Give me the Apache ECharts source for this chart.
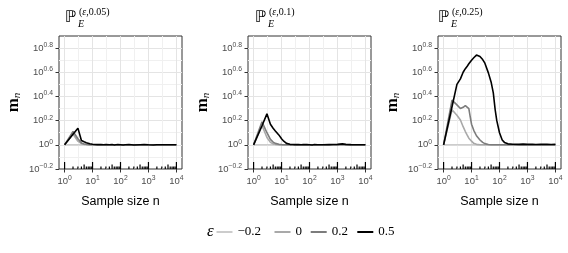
<!DOCTYPE html>
<html><head><meta charset="utf-8">
<script src="https://cdn.jsdelivr.net/npm/echarts@6/dist/echarts.min.js"></script>
<style>html,body{margin:0;padding:0;background:#fff;}#c{width:568px;height:253px;}</style>
</head><body><div id="c"></div>
<script>
// ---------- data ----------
const sampleSizes = [1,2,3,4,5,6,7,8,9,10,12,15,20,25,30,40,50,60,70,80,100,125,150,200,300,500,700,1000,1500,2000,3000,5000,7000,10000];
const epsLevels = ['\u22120.2','0','0.2','0.5'];
const panelLevels = ['0.05','0.1','0.25'];
const xTickExps = [0,1,2,3,4];
const yTickExps = [-0.2,0,0.2,0.4,0.6,0.8];
const logTickMultipliers = [1,2,3,4,5,6,7,8,9];
const logTickDecades = [0,1,2,3];

// log10(m_n) for each panel and epsilon
const p005_em02 = [0,0,0,0,0,0,0,0,0,0,0,0,0,0,0,0,0,0,0,0,0,0,0,0,0,0,0,0,0,0,0,0,0,0];
const p005_e0   = [0,0.09,0.03,0.01,0.004,0.002,0.001,0,0,0,0,0,0,0,0,0,0,0,0,0,0,0,0,0,0,0,0,0,0,0,0,0,0,0];
const p005_e02  = [0,0.11,0.05,0.016,0.007,0.004,0.002,0.001,0.001,0,0,0,0,0,0,0,0,0,0,0,0,0,0,0,0,0,0,0,0,0,0,0,0,0];
const p005_e05  = [0,0.088,0.138,0.035,0.025,0.018,0.013,0.009,0.007,0.005,0.003,0.002,0.003,0.001,0.002,0,0.002,-0.001,0.001,0.002,0,-0.002,0.001,0.002,-0.001,0.001,0.002,0,-0.001,0.001,0,0.001,0,0.001];

const p01_em02 = [0,0,0,0,0,0,0,0,0,0,0,0,0,0,0,0,0,0,0,0,0,0,0,0,0,0,0,0,0,0,0,0,0,0];
const p01_e0   = [0,0.16,0.06,0.02,0.008,0.004,0.002,0.001,0,0,0,0,0,0,0,0,0,0,0,0,0,0,0,0,0,0,0,0,0,0,0,0,0,0];
const p01_e02  = [0,0.19,0.10,0.045,0.022,0.012,0.007,0.004,0.003,0.002,0.001,0,0,0,0,0,0,0,0,0,0,0,0,0,0,0,0,0,0,0,0,0,0,0];
const p01_e05  = [0,0.158,0.256,0.17,0.137,0.115,0.1,0.082,0.068,0.05,0.03,0.012,0.004,0.003,0.002,0.003,0.001,0.002,0,0.002,0.001,-0.001,0.002,0.001,0,0.002,0.003,0.004,0.008,0.004,0.002,0.001,0,0.001];

const p025_em02 = [0,0,0,0,0,0,0,0,0,0,0,0,0,0,0,0,0,0,0,0,0,0,0,0,0,0,0,0,0,0,0,0,0,0];
const p025_e0   = [0,0.29,0.245,0.205,0.15,0.11,0.08,0.055,0.04,0.03,0.012,0.004,0.001,0,0,0,0,0,0,0,0,0,0,0,0,0,0,0,0,0,0,0,0,0];
const p025_e02  = [0,0.37,0.33,0.30,0.31,0.325,0.33,0.30,0.23,0.17,0.12,0.075,0.04,0.02,0.01,0.003,0.001,0,0,0,0,0,0,0,0,0,0,0,0,0,0,0,0,0];
const p025_e05  = [0,0.315,0.5,0.545,0.6,0.63,0.65,0.67,0.685,0.70,0.72,0.742,0.73,0.705,0.675,0.595,0.52,0.43,0.29,0.2,0.1,0.04,0.02,0.008,0.005,0.004,0.006,0.004,0.005,0.003,0.005,0.004,0.003,0.004];

const panelValues = [
  [p005_em02, p005_e0, p005_e02, p005_e05],
  [p01_em02, p01_e0, p01_e02, p01_e05],
  [p025_em02, p025_e0, p025_e02, p025_e05]
];

// ---------- layout / style ----------
const epsColors = ['#cccccc','#a9a9a9','#7c7c7c','#000000'];
const PANEL_LEFT = [59, 248, 438];
const PANEL_W = 123, PANEL_TOP = 36, PANEL_H = 133;
const X_MIN = -0.2, X_MAX = 4.2, Y_MIN = -0.2, Y_MAX = 0.9;
const TITLE_X = [65, 255, 438];
const MAJ = '#e4e4e4', MIN = '#f0f0f0', NONE = 'rgba(0,0,0,0)';
const xGridColors = [NONE, NONE, MAJ, NONE, NONE, NONE, NONE, MIN, NONE, NONE];
const yGridColors = [NONE, MIN, MAJ, MIN, MAJ, MIN, MAJ, MIN, MAJ, MIN, MAJ, NONE];
const labelRich = {
  b: {fontFamily: 'Liberation Sans', fontSize: 9.5, lineHeight: 13, color: '#4d4d4d'},
  s: {fontFamily: 'Liberation Sans', fontSize: 6.8, verticalAlign: 'top', color: '#4d4d4d'}
};
function fmtExp(v) {
  const t = Math.round(v * 10) / 10;
  const s = t === 0 ? '0' : (t < 0 ? '\u2212' + Math.abs(t) : String(t));
  return '{b|10}{s|' + s + '}';
}

const logTicks = [];
logTickDecades.forEach(d => logTickMultipliers.forEach(k => {
  logTicks.push([Math.log10(k * Math.pow(10, d)), k === 1 ? 1 : (k === 5 ? 2 : 3)]);
}));
logTicks.push([4, 1]);

const pxPerX = PANEL_W / (X_MAX - X_MIN);
const pxPerY = PANEL_H / (Y_MAX - Y_MIN);

const grid = [], xAxis = [], yAxis = [], series = [], graphic = [];
panelLevels.forEach((lvl, p) => {
  const L = PANEL_LEFT[p];
  const gi = grid.length;
  grid.push({left: L, top: PANEL_TOP, width: PANEL_W, height: PANEL_H, show: true,
    borderColor: '#333333', borderWidth: 1, backgroundColor: 'transparent'});
  grid.push({left: L + (0 - X_MIN) * pxPerX, top: PANEL_TOP, width: 4 * pxPerX, height: PANEL_H});
  grid.push({left: L, top: PANEL_TOP + (Y_MAX - 0.8) * pxPerY, width: PANEL_W, height: 1.0 * pxPerY});

  xAxis.push({gridIndex: gi, type: 'value', min: X_MIN, max: X_MAX, interval: 0.1,
    axisLine: {show: false, onZero: false}, axisTick: {show: false}, axisLabel: {show: false},
    splitLine: {show: true, lineStyle: {color: xGridColors, width: 1}}});
  yAxis.push({gridIndex: gi, type: 'value', min: Y_MIN, max: Y_MAX, interval: 0.1,
    axisLine: {show: false, onZero: false}, axisTick: {show: false}, axisLabel: {show: false},
    splitLine: {show: true, lineStyle: {color: yGridColors, width: 1}},
    name: '{m|m}{n|n}', nameLocation: 'middle', nameGap: 36, nameRotate: 90,
    nameTextStyle: {rich: {
      m: {fontFamily: 'Liberation Serif', fontWeight: 'bold', fontSize: 17, lineHeight: 18, color: '#000'},
      n: {fontFamily: 'Liberation Serif', fontStyle: 'italic', fontSize: 11, verticalAlign: 'bottom', color: '#000'}
    }}});

  xAxis.push({gridIndex: gi + 1, type: 'value', min: 0, max: 4, interval: 1,
    axisLine: {show: false, onZero: false},
    axisTick: {show: true, length: 3.5, lineStyle: {color: '#333333', width: 1}},
    axisLabel: {margin: 6, formatter: fmtExp, rich: labelRich},
    splitLine: {show: false},
    name: 'Sample size n', nameLocation: 'middle', nameGap: 26,
    nameTextStyle: {fontFamily: 'Liberation Sans', fontSize: 12.5, color: '#000'}});
  yAxis.push({gridIndex: gi + 1, type: 'value', min: 0, max: 1, show: false});

  xAxis.push({gridIndex: gi + 2, type: 'value', min: 0, max: 1, show: false});
  yAxis.push({gridIndex: gi + 2, type: 'value', min: -0.2, max: 0.8, interval: 0.2,
    axisLine: {show: false, onZero: false},
    axisTick: {show: true, length: 3.5, lineStyle: {color: '#333333', width: 1}},
    axisLabel: {margin: 6, formatter: fmtExp, rich: labelRich},
    splitLine: {show: false}});

  panelValues[p].forEach((vals, e) => {
    series.push({type: 'line', name: epsLevels[e], xAxisIndex: gi, yAxisIndex: gi,
      data: sampleSizes.map((n, i) => [Math.log10(n), vals[i]]),
      symbol: 'none', silent: true, animation: false,
      lineStyle: {color: epsColors[e], width: 1.6}, itemStyle: {color: epsColors[e]}});
  });
  series.push({type: 'custom', xAxisIndex: gi, yAxisIndex: gi, data: logTicks, silent: true,
    animation: false, clip: true,
    renderItem: (params, api) => {
      const pt = api.coord([api.value(0), Y_MIN]);
      const kind = api.value(1);
      const len = kind === 1 ? 7 : (kind === 2 ? 4.6 : 2.5);
      return {type: 'line', shape: {x1: pt[0], y1: pt[1], x2: pt[0], y2: pt[1] - len},
        style: {stroke: '#000', lineWidth: 1.2}};
    }});

  const tx = TITLE_X[p];
  graphic.push({type: 'text', x: tx, y: 18.3, style: {text: '\u2119', fontFamily: 'DejaVu Sans',
    fontSize: 16, fill: '#000', verticalAlign: 'middle'}});
  graphic.push({type: 'text', x: tx + 14, y: 12.5, style: {text: '{r|(}{e|\u03b5}{r|,' + lvl + ')}',
    verticalAlign: 'middle', rich: {
      r: {fontFamily: 'Liberation Serif', fontSize: 10, fill: '#000', color: '#000'},
      e: {fontFamily: 'Liberation Serif', fontStyle: 'italic', fontSize: 10, fill: '#000', color: '#000'}}}});
  graphic.push({type: 'text', x: tx + 13, y: 24.5, style: {text: 'E', fontFamily: 'Liberation Serif',
    fontStyle: 'italic', fontSize: 10, fill: '#000', verticalAlign: 'middle'}});
});

graphic.push({type: 'text', x: 207, y: 231.5, style: {text: '\u03b5', fontFamily: 'Liberation Serif',
  fontStyle: 'italic', fontSize: 17, fill: '#000', verticalAlign: 'middle'}});

const legendLeft = [216.5, 274.5, 310.7, 357.3];
const legend = epsLevels.map((name, i) => ({
  data: [name], left: legendLeft[i], top: 224, itemWidth: 16, itemHeight: 2,
  icon: 'rect', selectedMode: false, padding: 0,
  textStyle: {fontFamily: 'Liberation Serif', fontSize: 13, color: '#000', lineHeight: 16}
}));

const chart = echarts.init(document.getElementById('c'), null, {renderer: 'canvas'});
chart.setOption({animation: false, backgroundColor: '#fff', grid, xAxis, yAxis, series, legend, graphic});
</script></body></html>
